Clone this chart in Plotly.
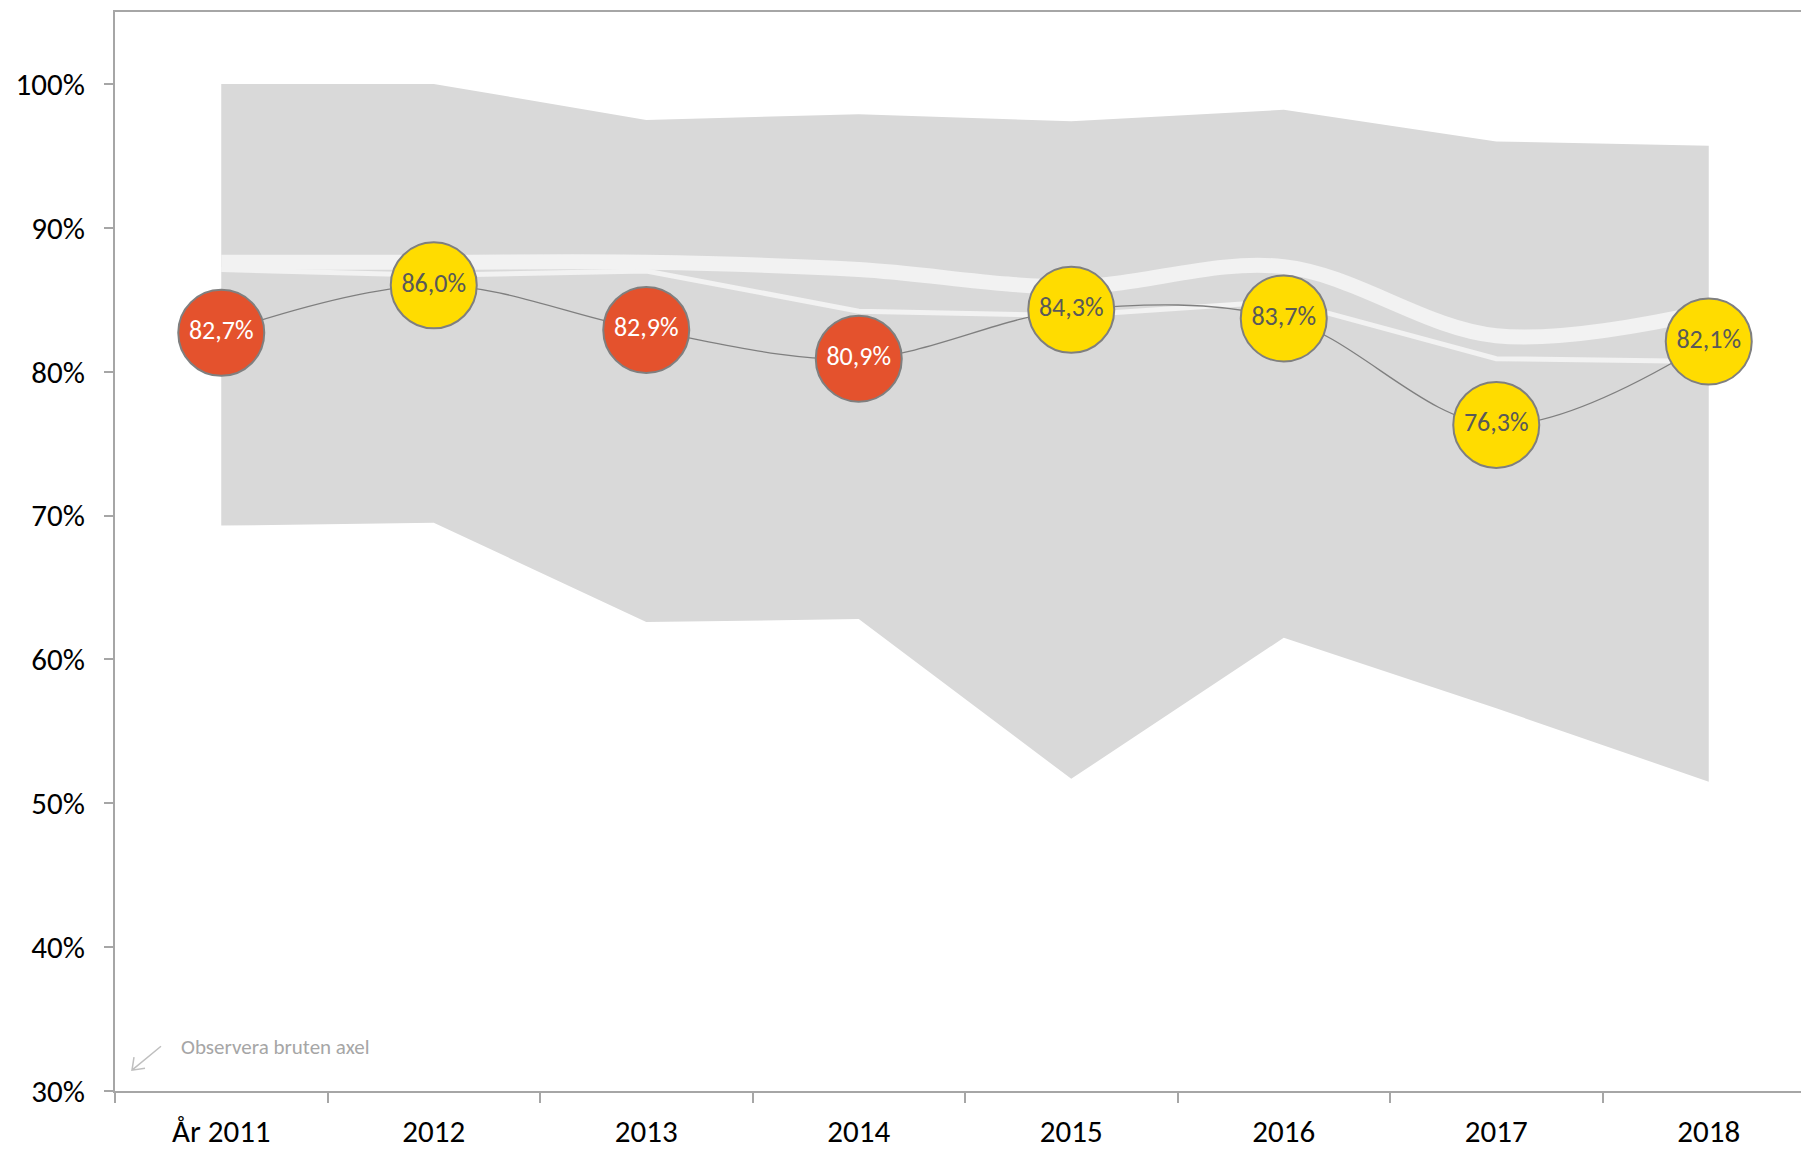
import plotly.graph_objects as go

# ---- data ----
years = ["År 2011", "2012", "2013", "2014", "2015", "2016", "2017", "2018"]
values = [82.7, 86.0, 82.9, 80.9, 84.3, 83.7, 76.3, 82.1]
status = ["low", "mid", "low", "low", "mid", "mid", "mid", "mid"]
band_upper = [100.0, 100.0, 97.5, 97.9, 97.4, 98.2, 96.0, 95.7]
band_lower = [69.3, 69.5, 62.6, 62.8, 51.7, 61.5, 56.6, 51.5]
reference_avg = [87.6, 87.6, 87.6, 87.1, 85.9, 87.3, 82.5, 84.2]
reference_med = [87.1, 86.7, 87.0, 84.2, 83.9, 84.9, 80.9, 80.7]
y_ticks = [30, 40, 50, 60, 70, 80, 90, 100]
y_tick_labels = [f"{v}%" for v in y_ticks]

# ---- styles ----
W, H = 1801, 1150
ML, MT, MB = 115, 12, 52
FONT = "Calibri, Carlito, Lato, sans-serif"
fill_map = {"low": "#E4522D", "mid": "#FFDC00"}
text_map = {"low": "#FFFFFF", "mid": "#595959"}
labels = [f"{v:.1f}%".replace(".", ",") for v in values]

fig = go.Figure()

# band (min-max)
fig.add_trace(go.Scatter(x=years, y=band_lower, mode="lines",
                         line=dict(width=0, color="#D9D9D9"),
                         hoverinfo="skip", showlegend=False))
fig.add_trace(go.Scatter(x=years, y=band_upper, mode="lines",
                         line=dict(width=0, color="#D9D9D9"),
                         fill="tonexty", fillcolor="#D9D9D9",
                         hoverinfo="skip", showlegend=False))
# thin white line
fig.add_trace(go.Scatter(x=years, y=reference_med, mode="lines",
                         line=dict(width=5, color="#F2F2F2"),
                         hoverinfo="skip", showlegend=False))
# thick white smoothed line
fig.add_trace(go.Scatter(x=years, y=reference_avg, mode="lines",
                         line=dict(width=15, color="#F2F2F2", shape="spline", smoothing=1),
                         hoverinfo="skip", showlegend=False))
# main series
fig.add_trace(go.Scatter(
    x=years, y=values, mode="lines+markers+text",
    line=dict(width=1.3, color="#7F7F7F", shape="spline", smoothing=1),
    marker=dict(size=86, color=[fill_map[s] for s in status],
                line=dict(width=2, color="#7F7F7F")),
    text=labels, textposition="middle center",
    textfont=dict(family=FONT, size=26, color=[text_map[s] for s in status]),
    showlegend=False,
))

PW = W - ML
PH = H - MT - MB
cat_w = 212.5
x_span = PW / cat_w


def px_to_paper(px, py):
    return (px - ML) / PW, (H - MB - py) / PH


# arrow near the axis break
tip = px_to_paper(132, 1077)
tail = px_to_paper(161, 1053)
w1 = px_to_paper(145, 1075)
w2 = px_to_paper(134, 1064)
fig.add_shape(type="path", xref="paper", yref="paper",
              path=f"M {tail[0]},{tail[1]} L {tip[0]},{tip[1]} M {w1[0]},{w1[1]} L {tip[0]},{tip[1]} L {w2[0]},{w2[1]}",
              line=dict(color="#BFBFBF", width=1.5))
tx, ty = px_to_paper(179, 1054)
fig.add_annotation(xref="paper", yref="paper", x=tx, y=ty, xanchor="left", yanchor="middle",
                   text="Observera bruten axel", showarrow=False,
                   font=dict(family=FONT, size=21, color="#A6A6A6"))

fig.update_layout(
    width=W, height=H,
    margin=dict(l=ML, r=0, t=MT, b=MB, pad=0),
    plot_bgcolor="white", paper_bgcolor="white",
    font=dict(family=FONT, color="#000000"),
    xaxis=dict(type="category", range=[-0.5, -0.5 + x_span],
               showline=True, linecolor="#A6A6A6", linewidth=2, mirror=True,
               ticks="outside", tickson="boundaries", ticklen=10, tickcolor="#A6A6A6", tickwidth=2,
               tickfont=dict(family=FONT, size=31, color="#000000"),
               ticklabelstandoff=12, showgrid=False, zeroline=False),
    yaxis=dict(range=[30, 105], tickmode="array", tickvals=y_ticks, ticktext=y_tick_labels,
               showline=True, linecolor="#A6A6A6", linewidth=2,
               ticks="outside", ticklen=9, tickcolor="#A6A6A6", tickwidth=2,
               tickfont=dict(family=FONT, size=31, color="#000000"),
               ticklabelstandoff=13, showgrid=False, zeroline=False),
)

fig.write_html("out.html", config={"displayModeBar": False},
               post_script="document.body.style.margin='0px';")
